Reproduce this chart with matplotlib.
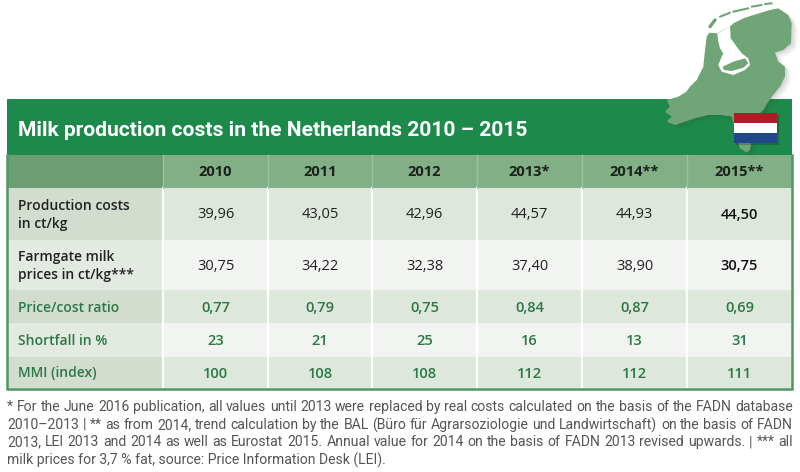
import numpy as np
import matplotlib.pyplot as plt
from matplotlib.patches import Rectangle, Polygon

# ---- data ----
years = ['2010', '2011', '2012', '2013*', '2014**', '2015**']
row_labels = ['Production costs\nin ct/kg', 'Farmgate milk\nprices in ct/kg***',
              'Price/cost ratio', 'Shortfall in %', 'MMI (index)']
production_costs = [39.96, 43.05, 42.96, 44.57, 44.93, 44.50]
farmgate_prices = [30.75, 34.22, 32.38, 37.40, 38.90, 30.75]
price_cost_ratio = [0.77, 0.79, 0.75, 0.84, 0.87, 0.69]
shortfall_pct = [23, 21, 25, 16, 13, 31]
mmi_index = [100, 108, 108, 112, 112, 111]

title = 'Milk production costs in the Netherlands 2010 \u2013 2015'
footnote_lines = [
    '* For the June 2016 publication, all values until 2013 were replaced by real costs calculated on the basis of the FADN database',
    '2010\u20132013 | ** as from 2014, trend calculation by the BAL (B\u00fcro f\u00fcr Agrarsoziologie und Landwirtschaft) on the basis of FADN',
    '2013, LEI 2013 and 2014 as well as Eurostat 2015. Annual value for 2014 on the basis of FADN 2013 revised upwards. | *** all',
    'milk prices for 3,7 % fat, source: Price Information Desk (LEI).',
]


def dec(v):
    return f'{v:.2f}'.replace('.', ',')


rows = [
    [dec(v) for v in production_costs],
    [dec(v) for v in farmgate_prices],
    [dec(v) for v in price_cost_ratio],
    [str(v) for v in shortfall_pct],
    [str(v) for v in mmi_index],
]

# ---- layout / styles ----
narrow = ['Roboto', 'DejaVu Sans']
body = ['Open Sans', 'DejaVu Sans']
col_edges = [7, 163, 268, 372, 477, 582, 687, 792]
row_edges = [155, 188, 240, 290, 323, 357, 388]
title_top = 99

dark_green = '#1d8a4b'
map_green = '#70a677'
text_green = '#2a7845'
head_first, head_cell = '#6d9e72', '#82af86'
row_first = ['#d2ddd0', '#e3eae2', '#d2ddd0', '#e3eae2', '#d2ddd0']
row_cell = ['#dee7dc', '#f1f4f0', '#dee7dc', '#f1f4f0', '#dee7dc']

fig = plt.figure(figsize=(8, 4.72), dpi=100)
ax = fig.add_axes([0, 0, 1, 1])
ax.set_xlim(0, 800)
ax.set_ylim(472, 0)
ax.axis('off')

# title bar
ax.add_patch(Rectangle((col_edges[0], title_top), col_edges[-1] - col_edges[0],
                       row_edges[0] - title_top, color=dark_green, lw=0, zorder=1))

# header row
for j in range(len(col_edges) - 1):
    c = head_first if j == 0 else head_cell
    ax.add_patch(Rectangle((col_edges[j], row_edges[0]), col_edges[j + 1] - col_edges[j],
                           row_edges[1] - row_edges[0], color=c, lw=0, zorder=1))

# body rows
for i in range(len(rows)):
    for j in range(len(col_edges) - 1):
        c = row_first[i] if j == 0 else row_cell[i]
        ax.add_patch(Rectangle((col_edges[j], row_edges[i + 1]), col_edges[j + 1] - col_edges[j],
                               row_edges[i + 2] - row_edges[i + 1], color=c, lw=0, zorder=1))

# separators
for x in col_edges[1:-1]:
    ax.plot([x, x], [row_edges[1], row_edges[-1]], color='white', lw=1.6, zorder=2)
    ax.plot([x, x], [row_edges[0], row_edges[1]], color='#9dc2a0', lw=1.0, zorder=2)
ax.plot([col_edges[0], col_edges[0], col_edges[-1], col_edges[-1]],
        [row_edges[0], row_edges[-1] + 0.5, row_edges[-1] + 0.5, row_edges[0]],
        color='#4f9763', lw=1.8, zorder=3)

# header texts
for j, yr in enumerate(years):
    cx = (col_edges[j + 1] + col_edges[j + 2]) / 2
    ax.text(cx, (row_edges[0] + row_edges[1]) / 2 + 1, yr, ha='center', va='center',
            fontsize=10.5, fontweight='bold', color='#1a221b', family=body, zorder=4)

# body texts
for i, (lab, vals) in enumerate(zip(row_labels, rows)):
    cy = (row_edges[i + 1] + row_edges[i + 2]) / 2 + 1
    green = i >= 2
    tc = text_green if green else '#222222'
    ax.text(18, cy, lab, ha='left', va='center', fontsize=10, fontweight='semibold',
            color=tc, family=body, linespacing=1.3, zorder=4)
    for j, v in enumerate(vals):
        cx = (col_edges[j + 1] + col_edges[j + 2]) / 2
        last = j == len(vals) - 1
        w = 'semibold' if (green or last) else 'normal'
        ax.text(cx, cy, v, ha='center', va='center', fontsize=10.5, fontweight=w,
                color=tc if (green or not last) else '#111111', family=body, zorder=4)

# title, fitted to its width in the reference
t = ax.text(18, 130, title, ha='left', va='center', fontsize=15, fontweight='bold',
            color='white', family=narrow, zorder=4)
fig.canvas.draw()
r = fig.canvas.get_renderer()
tw = t.get_window_extent(r).width
t.set_fontsize(15 * 513 / tw)

# footnote: first line fitted, next two justified
fn_y = [407, 425, 442, 460]
fn_kw = dict(va='center', ha='left', color='#555555', family=narrow, zorder=4)
probe = ax.text(0, 0, footnote_lines[0], fontsize=10, **fn_kw)
fig.canvas.draw()
fs = 10 * 786 / probe.get_window_extent(r).width
probe.remove()
for k, (line, y) in enumerate(zip(footnote_lines, fn_y)):
    if k == len(footnote_lines) - 1:
        ax.text(7, y, line, fontsize=fs, **fn_kw)
        continue
    words = line.split(' ')
    ts = [ax.text(0, y, w, fontsize=fs, **fn_kw) for w in words]
    fig.canvas.draw()
    ws = [tt.get_window_extent(r).width for tt in ts]
    gap = (786 - sum(ws)) / (len(words) - 1)
    x = 7
    for tt, w in zip(ts, ws):
        tt.set_x(x)
        x += w + gap

# map of the Netherlands (decoration)
nl = [(709.3, 32.7), (716.7, 33.3), (730, 26.7), (733.3, 23.3), (743.3, 18.3), (756.7, 14),
      (770, 10), (778.3, 8.3), (788.3, 15), (791.7, 23.3), (791, 43.3), (783.3, 50),
      (775, 52.7), (778.3, 61.7), (785, 66.7), (785, 76.7), (780, 86.7), (774, 94),
      (768, 102), (764, 109), (758.3, 115), (755, 126.7), (751.7, 140), (750, 150),
      (746.7, 152.7), (740, 148.3), (738.3, 143.3), (736.7, 133.3), (731.7, 116.7),
      (721.7, 115), (708.3, 115), (695, 118.3), (685, 121.7), (675, 125), (666.7, 121.7),
      (671.7, 116.7), (665, 111.7), (670, 106.7), (666.7, 100), (678.3, 96.7), (686, 92),
      (690, 86.7), (696.7, 80), (703.3, 66.7), (705, 50), (706.7, 36.7)]
lake = [(717.3, 33.3), (730, 26.7), (730.7, 38.3), (736.7, 46.7), (741.7, 53.3), (748.3, 58.3),
        (750, 65), (745, 70), (733.3, 75), (721.7, 71.7), (718.3, 65), (721.7, 56.7),
        (723.3, 53.3), (720, 48.3), (718.3, 41.7)]
flevo = [(722.7, 66.7), (733.3, 61.7), (745, 58.3), (748.3, 63.3), (743.3, 67.7), (731.7, 71),
         (724, 70)]
islands = [((710, 715), (26.7, 20)), ((720, 730), (16.7, 12.7)), ((733.3, 748.3), (11.7, 8.3)),
           ((751.7, 761.7), (6.7, 5)), ((765, 771.7), (4, 3.3))]
arr = np.array(nl)
for d, a in [(6, 0.05), (4, 0.07), (2, 0.09)]:
    ax.add_patch(Polygon(arr + [d, d * 0.8], closed=True, color='#404040', alpha=a, lw=0, zorder=5))
ax.add_patch(Polygon(arr, closed=True, color=map_green, lw=0, zorder=6))
ax.add_patch(Polygon(lake, closed=True, color='white', lw=0, zorder=6))
ax.add_patch(Polygon(flevo, closed=True, color=map_green, lw=0, zorder=6))
for k, (xs, ys) in enumerate(islands):
    ax.plot(xs, ys, color=map_green, lw=2.4 if k == 0 else 1.5, zorder=6,
            solid_capstyle='round')

# flag
flag_x, flag_y, flag_w, flag_h = 734, 113, 43, 30
ax.add_patch(Rectangle((flag_x + 1.5, flag_y + 1.5), flag_w, flag_h, color='black',
                       alpha=0.2, lw=0, zorder=7))
for k, c in enumerate(['#ae1c28', '#ffffff', '#21468b']):
    ax.add_patch(Rectangle((flag_x, flag_y + k * flag_h / 3), flag_w, flag_h / 3,
                           color=c, lw=0, zorder=8))

fig.savefig('out.png', dpi=100)
